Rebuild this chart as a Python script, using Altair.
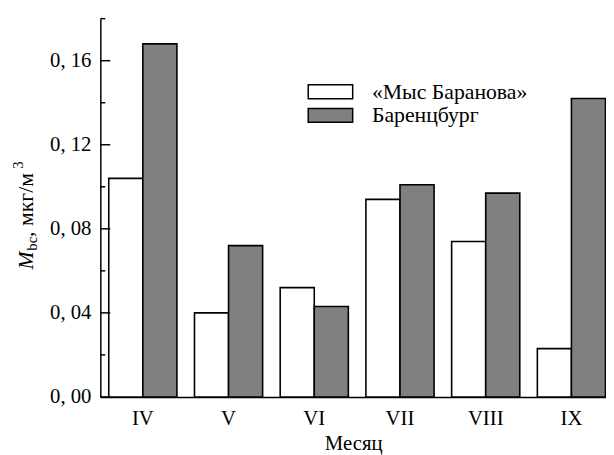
import altair as alt
import pandas as pd

months = ["IV", "V", "VI", "VII", "VIII", "IX"]
series_names = ["«Мыс Баранова»", "Баренцбург"]
mys_baranova = [0.104, 0.040, 0.052, 0.094, 0.074, 0.023]
barentsburg = [0.168, 0.072, 0.043, 0.101, 0.097, 0.142]
colors = ["#ffffff", "#808080"]

major_ticks = [0.0, 0.04, 0.08, 0.12, 0.16]
minor_ticks = [0.02, 0.06, 0.10, 0.14, 0.18]
x_title = "Месяц"
ytitle_parts = ["M", "bc", ", мкг/м", "3"]

FONT = "'Liberation Serif', 'Times New Roman', serif"
FS = 21

rows = []
for m, a, b in zip(months, mys_baranova, barentsburg):
    rows.append({"month": m, "series": series_names[0], "value": a})
    rows.append({"month": m, "series": series_names[1], "value": b})
df = pd.DataFrame(rows)

yscale = alt.Scale(domain=[0, 0.18], nice=False, zero=True)
xscale = alt.Scale(domain=months, paddingInner=0.205, paddingOuter=0.052, align=0.944)

bars = alt.Chart(df).mark_bar(stroke="black", strokeWidth=1.6, opacity=1).encode(
    x=alt.X("month:N", scale=xscale, sort=months,
            axis=alt.Axis(title=x_title, labelAngle=0, ticks=False, labelPadding=11,
                          titlePadding=4, labelFontSize=FS, titleFontSize=FS,
                          titleFontWeight="normal", labelFont=FONT, titleFont=FONT)),
    xOffset=alt.XOffset("series:N", sort=series_names,
                        scale=alt.Scale(domain=series_names, paddingInner=0, paddingOuter=0)),
    y=alt.Y("value:Q", scale=yscale,
            axis=alt.Axis(title=None, values=major_ticks, ticks=False, labelPadding=9.5,
                          labelFontSize=FS, labelFont=FONT,
                          labelExpr="replace(format(datum.value, '.2f'), '.', ', ')")),
    fill=alt.Fill("series:N", sort=series_names,
                  scale=alt.Scale(domain=series_names, range=colors),
                  legend=alt.Legend(title=None, orient="none", legendX=220, legendY=61,
                                    symbolType="M-1.837,-0.571H1.837V0.571H-1.837Z",
                                    symbolSize=600, symbolStrokeColor="black",
                                    symbolStrokeWidth=1.5, symbolOpacity=1,
                                    labelFont=FONT, labelFontSize=22, labelColor="black",
                                    labelOffset=29, labelLimit=0, rowPadding=0, padding=0)),
)

major_df = pd.DataFrame({"v": major_ticks})
minor_df = pd.DataFrame({"v": minor_ticks})
major_rules = alt.Chart(major_df).mark_rule(color="black", strokeWidth=1.5).encode(
    y=alt.Y("v:Q", scale=yscale), x=alt.value(0), x2=alt.value(10))
minor_rules = alt.Chart(minor_df).mark_rule(color="black", strokeWidth=1.5).encode(
    y=alt.Y("v:Q", scale=yscale), x=alt.value(0), x2=alt.value(5))

def tpart(text, x, y, size, style="normal"):
    return alt.Chart(pd.DataFrame({"t": [text]})).mark_text(
        angle=270, align="left", baseline="alphabetic", font=FONT,
        fontSize=size, fontStyle=style, color="black").encode(
        text="t:N", x=alt.value(x), y=alt.value(y))

t_m = tpart(ytitle_parts[0], -68.5, 254, 22, "italic")
t_bc = tpart(ytitle_parts[1], -64.5, 235, 15)
t_unit = tpart(ytitle_parts[2], -68.5, 221, 22)
t_sup = tpart(ytitle_parts[3], -78, 152, 15)

chart = alt.layer(bars, major_rules, minor_rules, t_m, t_bc, t_unit, t_sup).properties(
    width=512, height=383,
    autosize=alt.AutoSizeParams(type="none"),
    padding={"left": 93.5, "top": 8, "right": 0, "bottom": 56},
).configure(font=FONT).configure_view(stroke=None).configure_axis(
    domainColor="black", domainWidth=1.5, labelColor="black", titleColor="black", grid=False,
    labelFont=FONT, titleFont=FONT
).configure_legend(labelFont=FONT).configure_text(font=FONT)

chart.save("out.html", embed_options={"renderer": "svg", "actions": False})
